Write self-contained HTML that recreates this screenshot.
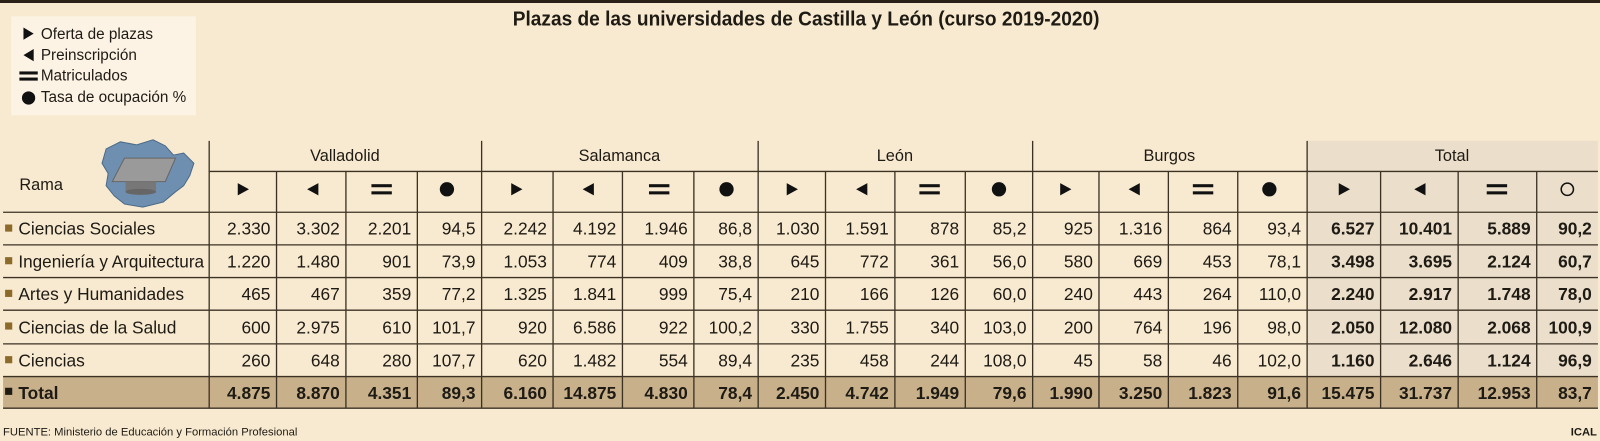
<!DOCTYPE html>
<html><head><meta charset="utf-8"><style>
html,body{margin:0;padding:0;background:#f8ead0;}
svg{display:block;font-family:"Liberation Sans",Arial,sans-serif;}
.d{font-size:17px;fill:#1e1a14;text-anchor:end;}
.b{font-weight:bold;}
.l{font-size:17px;fill:#1e1a14;}
.h{font-size:16px;fill:#1e1a14;text-anchor:middle;}
</style></head><body>
<svg width="1600" height="441" viewBox="0 0 1600 441" xmlns="http://www.w3.org/2000/svg">
<rect x="0" y="0" width="1600" height="441" fill="#f8ead0"/>
<rect x="0" y="0" width="1600" height="3" fill="#2a2218"/>
<g transform="scale(1.0204)">
<text x="790" y="25" font-size="20" font-weight="bold" text-anchor="middle" fill="#1e1a14" textLength="575" lengthAdjust="spacingAndGlyphs">Plazas de las universidades de Castilla y León (curso 2019-2020)</text>
<rect x="11" y="16" width="181" height="97" fill="#fcf3e5"/>
<polygon points="23,27 33,33 23,39" fill="#111"/>
<text x="40" y="38" font-size="15" fill="#1e1a14">Oferta de plazas</text>
<polygon points="33,48 23,54 33,60" fill="#111"/>
<text x="40" y="59" font-size="15" fill="#1e1a14">Preinscripción</text>
<rect x="19" y="70" width="18" height="3" fill="#111"/><rect x="19" y="76" width="18" height="3" fill="#111"/>
<text x="40" y="79" font-size="15" fill="#1e1a14">Matriculados</text>
<circle cx="28" cy="96" r="6.5" fill="#111"/>
<text x="40" y="100" font-size="15" fill="#1e1a14">Tasa de ocupación %</text>
<rect x="1281" y="138" width="285" height="231" fill="#ebdfcb"/>
<rect x="3" y="369" width="1563" height="31" fill="#c8b08b"/>
<path d="M104,146 L118,139 L134,142 L150,137 L162,143 L170,152 L180,150 L190,160 L186,172 L180,182 L172,188 L160,198 L140,203 L122,200 L112,192 L104,182 L106,170 L100,160 Z" fill="#6f8fb0" stroke="#4a6a8a" stroke-width="1"/>
<polygon points="122,155 172,155 162,178 110,178" fill="#9a9a9a" stroke="#666" stroke-width="1"/>
<rect x="123" y="178" width="30" height="10" fill="#777"/>
<ellipse cx="138" cy="188" rx="15" ry="3" fill="#666"/>
<text x="19" y="186" font-size="16" fill="#1e1a14">Rama</text>
<g stroke="#3b3224" stroke-width="1.3" fill="none">
<line x1="205" y1="168" x2="1566" y2="168"/>
<line x1="3" y1="208" x2="1566" y2="208"/>
<line x1="3" y1="240" x2="1566" y2="240"/>
<line x1="3" y1="272" x2="1566" y2="272"/>
<line x1="3" y1="304" x2="1566" y2="304"/>
<line x1="3" y1="337" x2="1566" y2="337"/>
<line x1="3" y1="369" x2="1566" y2="369"/>
<line x1="3" y1="400" x2="1566" y2="400"/>
<line x1="205" y1="138" x2="205" y2="400"/>
<line x1="472" y1="138" x2="472" y2="400"/>
<line x1="743" y1="138" x2="743" y2="400"/>
<line x1="1012" y1="138" x2="1012" y2="400"/>
<line x1="1281" y1="138" x2="1281" y2="400"/>
<line x1="271" y1="168" x2="271" y2="400"/><line x1="339" y1="168" x2="339" y2="400"/><line x1="409" y1="168" x2="409" y2="400"/>
<line x1="542" y1="168" x2="542" y2="400"/><line x1="610" y1="168" x2="610" y2="400"/><line x1="680" y1="168" x2="680" y2="400"/>
<line x1="809" y1="168" x2="809" y2="400"/><line x1="877" y1="168" x2="877" y2="400"/><line x1="946" y1="168" x2="946" y2="400"/>
<line x1="1077" y1="168" x2="1077" y2="400"/><line x1="1145" y1="168" x2="1145" y2="400"/><line x1="1213" y1="168" x2="1213" y2="400"/>
<line x1="1353" y1="168" x2="1353" y2="400"/><line x1="1429" y1="168" x2="1429" y2="400"/><line x1="1506" y1="168" x2="1506" y2="400"/>
</g>
<text class="h" x="338" y="158">Valladolid</text>
<text class="h" x="607" y="158">Salamanca</text>
<text class="h" x="877" y="158">León</text>
<text class="h" x="1146" y="158">Burgos</text>
<text class="h" x="1423" y="158">Total</text>
<g fill="#111" transform="translate(0,-2.5)">
<polygon points="233,182 244,188 233,194"/><polygon points="312,182 301,188 312,194"/><rect x="364" y="183" width="20" height="3"/><rect x="364" y="190" width="20" height="3"/><circle cx="438" cy="188" r="7"/>
<polygon points="501,182 512,188 501,194"/><polygon points="582,182 571,188 582,194"/><rect x="636" y="183" width="20" height="3"/><rect x="636" y="190" width="20" height="3"/><circle cx="712" cy="188" r="7"/>
<polygon points="771,182 782,188 771,194"/><polygon points="850,182 839,188 850,194"/><rect x="901" y="183" width="20" height="3"/><rect x="901" y="190" width="20" height="3"/><circle cx="979" cy="188" r="7"/>
<polygon points="1039,182 1050,188 1039,194"/><polygon points="1117,182 1106,188 1117,194"/><rect x="1169" y="183" width="20" height="3"/><rect x="1169" y="190" width="20" height="3"/><circle cx="1244" cy="188" r="7"/>
<polygon points="1312,182 1323,188 1312,194"/><polygon points="1397,182 1386,188 1397,194"/><rect x="1457" y="183" width="20" height="3"/><rect x="1457" y="190" width="20" height="3"/>
<circle cx="1536" cy="188" r="6" fill="none" stroke="#111" stroke-width="1.5"/>
</g>
<g fill="#8b6a2a"><rect x="5" y="220" width="7" height="7"/><rect x="5" y="252" width="7" height="7"/><rect x="5" y="284" width="7" height="7"/><rect x="5" y="316" width="7" height="7"/><rect x="5" y="349" width="7" height="7"/></g>
<rect x="5" y="380" width="7" height="7" fill="#1e1a14"/>
<text class="l" x="18" y="230">Ciencias Sociales</text>
<text class="l" x="18" y="262" textLength="182" lengthAdjust="spacingAndGlyphs">Ingeniería y Arquitectura</text>
<text class="l" x="18" y="294">Artes y Humanidades</text>
<text class="l" x="18" y="327">Ciencias de la Salud</text>
<text class="l" x="18" y="359">Ciencias</text>
<text class="l b" x="18" y="391">Total</text>
<g class="d">
<text x="265" y="230">2.330</text><text x="333" y="230">3.302</text><text x="403" y="230">2.201</text><text x="466" y="230">94,5</text>
<text x="536" y="230">2.242</text><text x="604" y="230">4.192</text><text x="674" y="230">1.946</text><text x="737" y="230">86,8</text>
<text x="803" y="230">1.030</text><text x="871" y="230">1.591</text><text x="940" y="230">878</text><text x="1006" y="230">85,2</text>
<text x="1071" y="230">925</text><text x="1139" y="230">1.316</text><text x="1207" y="230">864</text><text x="1275" y="230">93,4</text>
<g class="b"><text x="1347" y="230">6.527</text><text x="1423" y="230">10.401</text><text x="1500" y="230">5.889</text><text x="1560" y="230">90,2</text></g>
<text x="265" y="262">1.220</text><text x="333" y="262">1.480</text><text x="403" y="262">901</text><text x="466" y="262">73,9</text>
<text x="536" y="262">1.053</text><text x="604" y="262">774</text><text x="674" y="262">409</text><text x="737" y="262">38,8</text>
<text x="803" y="262">645</text><text x="871" y="262">772</text><text x="940" y="262">361</text><text x="1006" y="262">56,0</text>
<text x="1071" y="262">580</text><text x="1139" y="262">669</text><text x="1207" y="262">453</text><text x="1275" y="262">78,1</text>
<g class="b"><text x="1347" y="262">3.498</text><text x="1423" y="262">3.695</text><text x="1500" y="262">2.124</text><text x="1560" y="262">60,7</text></g>
<text x="265" y="294">465</text><text x="333" y="294">467</text><text x="403" y="294">359</text><text x="466" y="294">77,2</text>
<text x="536" y="294">1.325</text><text x="604" y="294">1.841</text><text x="674" y="294">999</text><text x="737" y="294">75,4</text>
<text x="803" y="294">210</text><text x="871" y="294">166</text><text x="940" y="294">126</text><text x="1006" y="294">60,0</text>
<text x="1071" y="294">240</text><text x="1139" y="294">443</text><text x="1207" y="294">264</text><text x="1275" y="294">110,0</text>
<g class="b"><text x="1347" y="294">2.240</text><text x="1423" y="294">2.917</text><text x="1500" y="294">1.748</text><text x="1560" y="294">78,0</text></g>
<text x="265" y="327">600</text><text x="333" y="327">2.975</text><text x="403" y="327">610</text><text x="466" y="327">101,7</text>
<text x="536" y="327">920</text><text x="604" y="327">6.586</text><text x="674" y="327">922</text><text x="737" y="327">100,2</text>
<text x="803" y="327">330</text><text x="871" y="327">1.755</text><text x="940" y="327">340</text><text x="1006" y="327">103,0</text>
<text x="1071" y="327">200</text><text x="1139" y="327">764</text><text x="1207" y="327">196</text><text x="1275" y="327">98,0</text>
<g class="b"><text x="1347" y="327">2.050</text><text x="1423" y="327">12.080</text><text x="1500" y="327">2.068</text><text x="1560" y="327">100,9</text></g>
<text x="265" y="359">260</text><text x="333" y="359">648</text><text x="403" y="359">280</text><text x="466" y="359">107,7</text>
<text x="536" y="359">620</text><text x="604" y="359">1.482</text><text x="674" y="359">554</text><text x="737" y="359">89,4</text>
<text x="803" y="359">235</text><text x="871" y="359">458</text><text x="940" y="359">244</text><text x="1006" y="359">108,0</text>
<text x="1071" y="359">45</text><text x="1139" y="359">58</text><text x="1207" y="359">46</text><text x="1275" y="359">102,0</text>
<g class="b"><text x="1347" y="359">1.160</text><text x="1423" y="359">2.646</text><text x="1500" y="359">1.124</text><text x="1560" y="359">96,9</text></g>
<g class="b">
<text x="265" y="391">4.875</text><text x="333" y="391">8.870</text><text x="403" y="391">4.351</text><text x="466" y="391">89,3</text>
<text x="536" y="391">6.160</text><text x="604" y="391">14.875</text><text x="674" y="391">4.830</text><text x="737" y="391">78,4</text>
<text x="803" y="391">2.450</text><text x="871" y="391">4.742</text><text x="940" y="391">1.949</text><text x="1006" y="391">79,6</text>
<text x="1071" y="391">1.990</text><text x="1139" y="391">3.250</text><text x="1207" y="391">1.823</text><text x="1275" y="391">91,6</text>
<text x="1347" y="391">15.475</text><text x="1423" y="391">31.737</text><text x="1500" y="391">12.953</text><text x="1560" y="391">83,7</text>
</g>
</g>
<text x="3" y="427" font-size="11" fill="#1e1a14">FUENTE: Ministerio de Educación y Formación Profesional</text>
<text x="1565" y="427" font-size="11" font-weight="bold" text-anchor="end" fill="#1e1a14">ICAL</text>
</g>
</svg>
</body></html>
